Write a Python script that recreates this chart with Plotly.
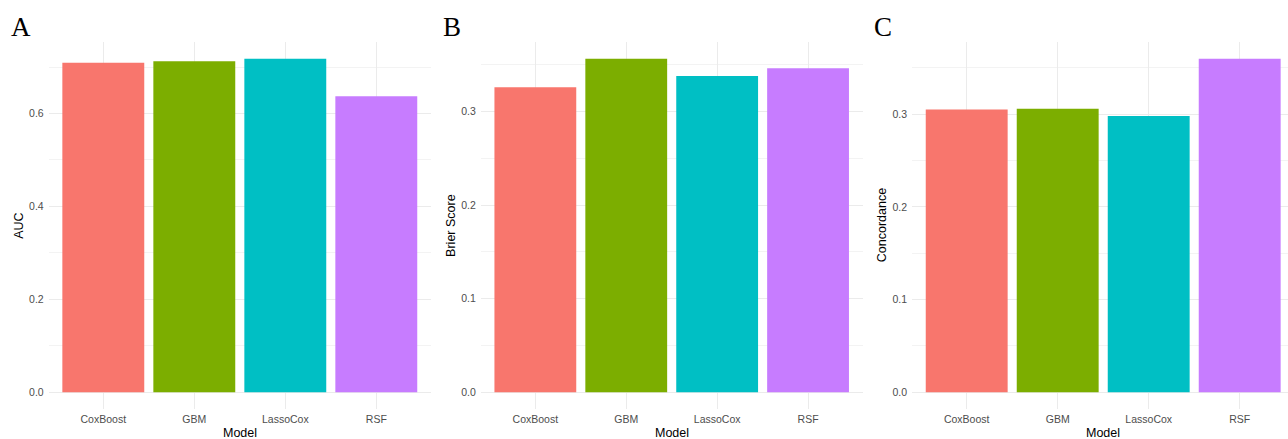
import plotly.graph_objects as go

# Model performance metrics
models = ["CoxBoost", "GBM", "LassoCox", "RSF"]
auc = [0.709, 0.7125, 0.7175, 0.637]
brier = [0.326, 0.3564, 0.3382, 0.3465]
concordance = [0.305, 0.306, 0.298, 0.3597]
colors = ["#F8766D", "#7CAE00", "#00BFC4", "#C77CFF"]

W, H = 1288, 439
SANS = "Liberation Sans, Arial, sans-serif"
SERIF = "Liberation Serif, Times New Roman, serif"

panels = [
    # label, metric title, values, major step, x-domain (px), x-range
    ("A", "AUC", auc, 0.2, (48.7, 430.9), [-0.6, 3.6]),
    ("B", "Brier Score", brier, 0.1, (480.8, 862.6), [-0.6, 3.6]),
    ("C", "Concordance", concordance, 0.1, (912.1, 1288.0), [-0.6, -0.6 + (1288.0 - 912.1) / 91.0]),
]

plot_top, plot_bottom = 42.2, 409.0
ydom = [(H - plot_bottom) / H, (H - plot_top) / H]

fig = go.Figure()
annotations = []

for i, (label, title, vals, step, (x0, x1), xr) in enumerate(panels):
    sfx = "" if i == 0 else str(i + 1)
    fig.add_trace(go.Bar(
        x=models, y=vals, marker=dict(color=colors, line=dict(width=0)),
        xaxis="x" + sfx, yaxis="y" + sfx, showlegend=False,
    ))
    vmax = max(vals)
    fig.update_layout(**{
        "xaxis" + sfx: dict(
            domain=[x0 / W, x1 / W], anchor="y" + sfx, type="category",
            categoryorder="array", categoryarray=models, range=xr,
            showgrid=True, gridcolor="#ebebeb", gridwidth=1, zeroline=False,
            showline=False, ticks="", ticklabelstandoff=2,
            tickfont=dict(family=SANS, size=10.5, color="#4d4d4d"),
        ),
        "yaxis" + sfx: dict(
            domain=ydom, anchor="x" + sfx, range=[-0.05 * vmax, 1.05 * vmax],
            dtick=step, tick0=0, tickformat=".1f",
            showgrid=True, gridcolor="#ebebeb", gridwidth=1, zeroline=False,
            showline=False, ticks="", ticklabelstandoff=4,
            minor=dict(dtick=step / 2, tick0=0, showgrid=True, gridcolor="#f3f3f3", gridwidth=1),
            tickfont=dict(family=SANS, size=10.5, color="#4d4d4d"),
        ),
    })
    # panel letter
    annotations.append(dict(
        text=label, x=(x0 - 40) / W, y=(H - 27) / H, xref="paper", yref="paper",
        xanchor="left", yanchor="middle", showarrow=False,
        font=dict(family=SERIF, size=27, color="black"),
    ))
    # y-axis title
    annotations.append(dict(
        text=title, x=(x0 - 30.5) / W, y=sum(ydom) / 2, xref="paper", yref="paper",
        xanchor="center", yanchor="middle", textangle=-90, showarrow=False,
        font=dict(family=SANS, size=12.5, color="black"),
    ))
    # x-axis title
    xc = (x0 + 0.6 * 91.0 + 1.5 * 91.0)
    annotations.append(dict(
        text="Model", x=xc / W, y=(H - 433) / H, xref="paper", yref="paper",
        xanchor="center", yanchor="middle", showarrow=False,
        font=dict(family=SANS, size=12.5, color="black"),
    ))

fig.update_layout(
    width=W, height=H, margin=dict(l=0, r=0, t=0, b=0),
    paper_bgcolor="white", plot_bgcolor="white",
    bargap=0.1, annotations=annotations,
)

fig.write_html("out.html")
